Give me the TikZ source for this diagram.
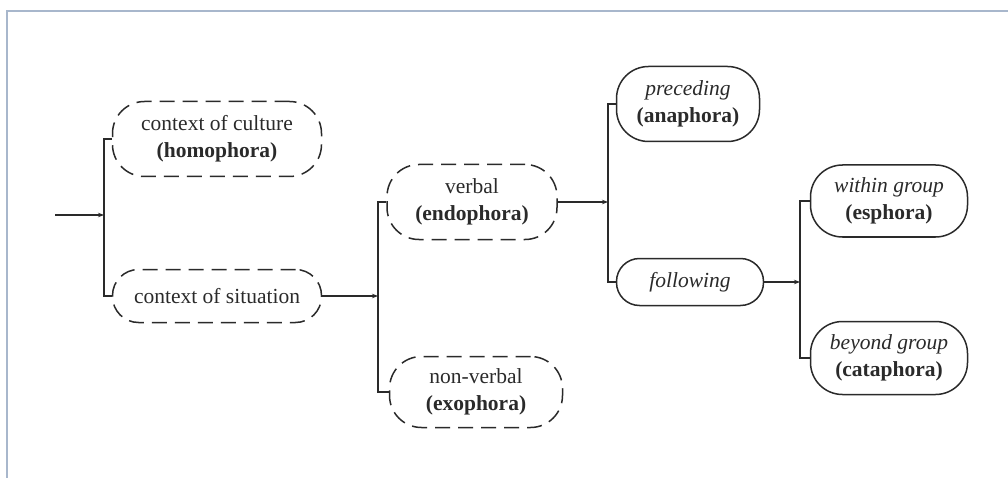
\documentclass[tikz,border=0pt]{standalone}
\usepackage{fontspec}
\setmainfont{Liberation Serif}
\usetikzlibrary{arrows.meta}
\definecolor{frameblue}{HTML}{A8B7CC}
\definecolor{ink}{HTML}{2A2A2A}
\tikzset{
  box/.style={draw=ink, line width=1.5pt, rounded corners=32pt, align=center,
    inner sep=0pt, text=ink, font=\fontsize{21.5}{27}\selectfont},
  dbox/.style={box, dash pattern=on 15pt off 8pt},
  link/.style={draw=ink, line width=1.5pt},
  arr/.style={link, -{Stealth[length=6pt,width=4.5pt]}},
}
\begin{document}
\begin{tikzpicture}[x=1pt,y=-1pt]
\useasboundingbox (0,0) rectangle (1008,478);
\fill[white] (0,0) rectangle (1008,478);
\draw[frameblue, line width=1.5pt] (7,478) -- (7,11) -- (1008,11);

% level 1
\node[dbox, minimum width=209pt, minimum height=75pt] (cc) at (217,139)
  {context of culture\\\textbf{(homophora)}};
\node[dbox, rounded corners=26pt, minimum width=209pt, minimum height=53pt] (cs) at (217,296)
  {context of situation};
% level 2
\node[dbox, minimum width=170pt, minimum height=75pt] (vb) at (472,202)
  {verbal\\\textbf{(endophora)}};
\node[dbox, minimum width=173pt, minimum height=71pt] (nv) at (476,392)
  {non-verbal\\\textbf{(exophora)}};
% level 3
\node[box, minimum width=143pt, minimum height=75pt] (pr) at (688,104)
  {\textit{preceding}\\\textbf{(anaphora)}};
\node[box, rounded corners=23pt, minimum width=147pt, minimum height=47pt] (fo) at (690,282)
  {\textit{following}};
% level 4
\node[box, minimum width=157pt, minimum height=72pt] (wg) at (889,201)
  {\textit{within group}\\\textbf{(esphora)}};
\node[box, minimum width=157pt, minimum height=73pt] (bg) at (889,358)
  {\textit{beyond group}\\\textbf{(cataphora)}};

% junctions
\coordinate (s0) at (55,215);
\coordinate (j1) at (104,215);
\coordinate (j2) at (378,296);
\coordinate (j3) at (608,202);
\coordinate (j4) at (800,282);

\draw[arr] (s0) -- (j1);
\draw[link] (cc.west) -| (j1) |- (cs.west);
\draw[arr] (cs.east) -- (j2);
\draw[link] (vb.west) -| (j2) |- (nv.west);
\draw[arr] (vb.east) -- (j3);
\draw[link] (pr.west) -| (j3) |- (fo.west);
\draw[arr] (fo.east) -- (j4);
\draw[link] (wg.west) -| (j4) |- (bg.west);
\end{tikzpicture}
\end{document}
